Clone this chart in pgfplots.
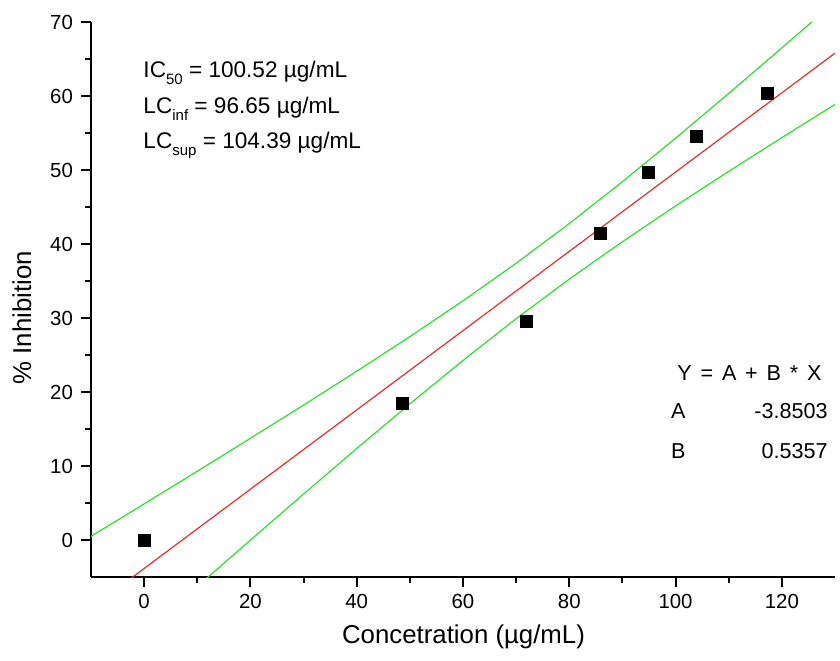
\documentclass[border=0pt]{standalone}
\usepackage{fontspec}
\setmainfont{Liberation Sans}
\usepackage{pgfplots}
\pgfplotsset{compat=1.18}
\definecolor{bandgreen}{RGB}{40,225,40}
\definecolor{fitred}{RGB}{232,45,45}
\newcommand{\lowsub}[1]{\raisebox{-0.55ex}{\fontsize{7.5}{8}\selectfont #1}}
\begin{document}
\begin{tikzpicture}
\begin{axis}[
  scale only axis, width=372pt, height=277.5pt,
  xmin=-10, xmax=130, ymin=-5, ymax=70,
  axis x line*=bottom, axis y line*=left,
  axis line style={line width=1.1pt, -},
  xtick={0,20,...,120}, ytick={0,10,...,70},
  minor x tick num=1, minor y tick num=1,
  tick align=outside,
  major tick length=5pt, minor tick length=3pt,
  every tick/.style={line width=1pt, black},
  tick label style={font=\fontsize{10.2}{11}\selectfont},
  yticklabel style={xshift=-0.5pt},
  /pgf/number format/assume math mode=true,
  xlabel={Concetration (µg/mL)},
  ylabel={\% Inhibition},
  every axis x label/.style={at={(axis description cs:0.5007,-0.108)}, anchor=center, font=\fontsize{12.9}{14}\selectfont},
  every axis y label/.style={at={(axis description cs:-0.093,0.467)}, anchor=center, rotate=90, font=\fontsize{12.9}{14}\selectfont},
]
\addplot[bandgreen, line width=0.6pt] coordinates {
(-10,0.49)(0,4.88)(10,9.29)(20,13.74)(30,18.23)(40,22.80)(50,27.48)(60,32.32)(70,37.40)(80,42.76)(90,48.42)(100,54.30)(110,60.35)(120,66.50)(130,72.72)};
\addplot[bandgreen, line width=0.6pt] coordinates {
(-10,-18.91)(0,-12.58)(10,-6.28)(20,-0.01)(30,6.21)(40,12.36)(50,18.39)(60,24.26)(70,29.90)(80,35.25)(90,40.31)(100,45.14)(110,49.81)(120,54.37)(130,58.86)};
\addplot[fitred, line width=0.6pt] coordinates {(-10,-9.207)(130,65.791)};
\addplot[only marks, mark=square*, mark size=3pt, black] coordinates {
(0,0)(48.6,18.4)(72.0,29.6)(85.9,41.4)(94.9,49.7)(103.9,54.6)(117.3,60.4)};
\node[anchor=west, font=\fontsize{11.3}{12}\selectfont, inner sep=0pt] at (axis cs:-0.2,63.1) {IC\lowsub{50} = 100.52 µg/mL};
\node[anchor=west, font=\fontsize{11.3}{12}\selectfont, inner sep=0pt] at (axis cs:-0.2,58.3) {LC\lowsub{inf} = 96.65 µg/mL};
\node[anchor=west, font=\fontsize{11.3}{12}\selectfont, inner sep=0pt] at (axis cs:-0.2,53.3) {LC\lowsub{sup} = 104.39 µg/mL};
\node[anchor=center, font=\fontsize{10.8}{12}\selectfont, inner sep=0pt] at (axis cs:113.9,22.6) {Y\hspace{4.4pt}=\hspace{4.4pt}A\hspace{4.4pt}+\hspace{4.4pt}B\hspace{4.4pt}*\hspace{4.4pt}X};
\node[anchor=west, font=\fontsize{10.8}{12}\selectfont, inner sep=0pt] at (axis cs:99.1,17.4) {A};
\node[anchor=east, font=\fontsize{10.8}{12}\selectfont, inner sep=0pt] at (axis cs:128.7,17.4) {-3.8503};
\node[anchor=west, font=\fontsize{10.8}{12}\selectfont, inner sep=0pt] at (axis cs:99.1,12.0) {B};
\node[anchor=east, font=\fontsize{10.8}{12}\selectfont, inner sep=0pt] at (axis cs:128.7,12.0) {0.5357};
\end{axis}
\pgfresetboundingbox
\path (-45.5pt,-41.5pt) rectangle (374.5pt,288.5pt);
\end{tikzpicture}
\end{document}
